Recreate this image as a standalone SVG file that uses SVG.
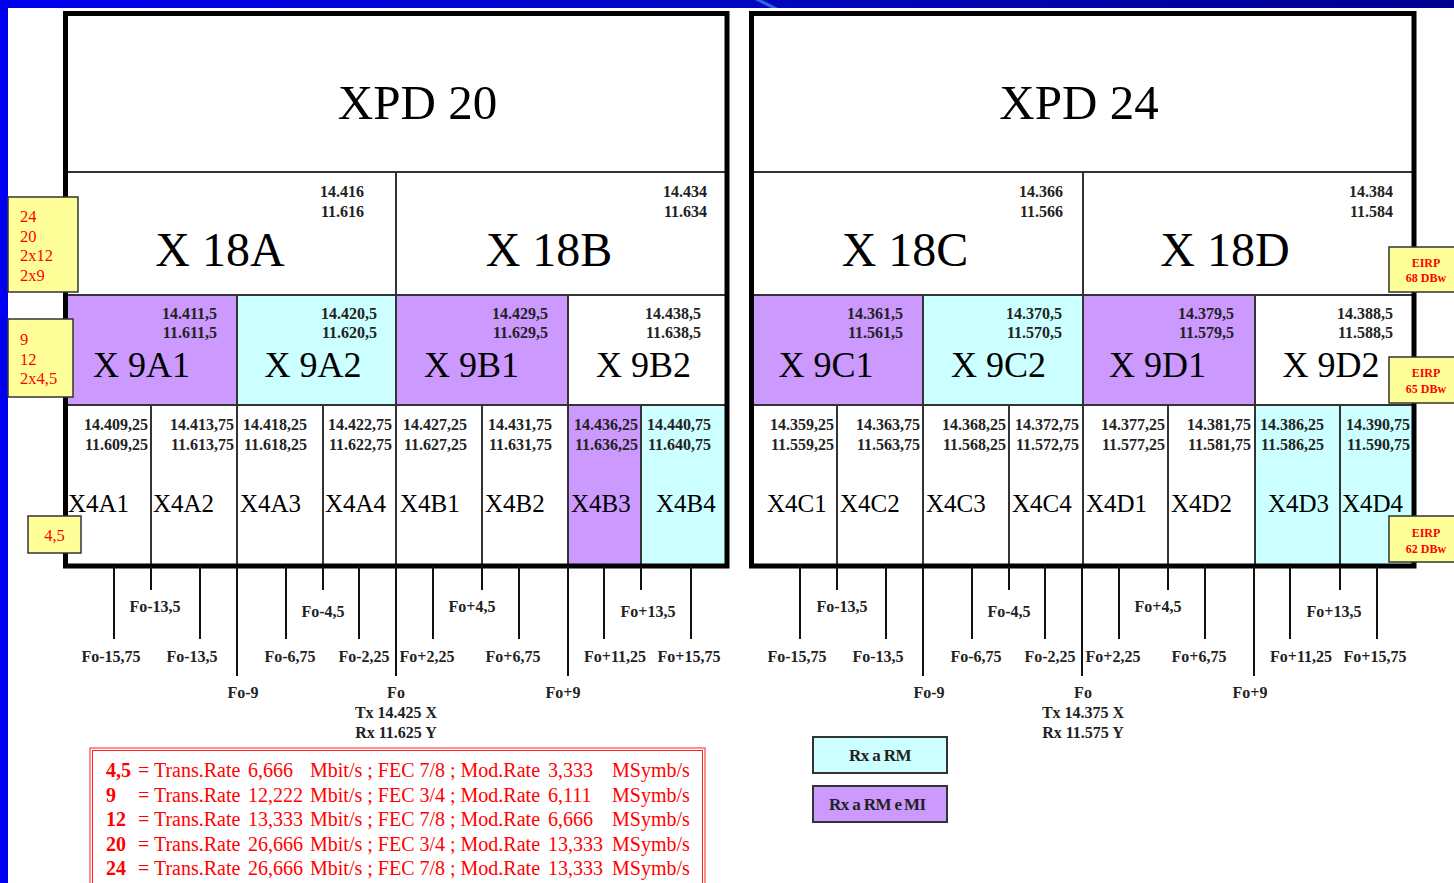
<svg xmlns="http://www.w3.org/2000/svg" width="1454" height="883" viewBox="0 0 1454 883">
<defs>
<linearGradient id="topbar" x1="0" y1="0" x2="1" y2="0">
<stop offset="0" stop-color="#0000f0"/>
<stop offset="0.5" stop-color="#0008c0"/>
<stop offset="1" stop-color="#000090"/>
</linearGradient>
</defs>
<style>
.sf{font-family:"Liberation Serif","Times New Roman",serif;}
.big{font-size:49px;fill:#000;text-anchor:middle;}
.b18{font-size:48px;fill:#000;text-anchor:middle;}
.b9{font-size:36px;fill:#000;text-anchor:middle;}
.b4{font-size:25px;fill:#000;}
.num{font-size:16px;font-weight:bold;fill:#222;text-anchor:end;}
.tick{font-size:16px;font-weight:bold;fill:#222;text-anchor:middle;}
.ln{stroke:#333;stroke-width:2;fill:none;}
.tk{stroke:#111;stroke-width:2;}
.frame{fill:none;stroke:#000;stroke-width:5;}
.pur{fill:#cc99ff;}
.cya{fill:#ccffff;}
.yel{fill:#ffff99;stroke:#333;stroke-width:1.5;}
.red{font-size:16.5px;fill:#ff0000;}
.eirp{font-size:12px;font-weight:bold;fill:#ff0000;text-anchor:middle;}
.leg{font-size:20px;fill:#ff0000;}
.rx{font-size:17px;font-weight:bold;fill:#222;letter-spacing:-0.6px;}
</style>
<rect x="0" y="0" width="1454" height="883" fill="#fff"/>
<rect x="0" y="0" width="1454" height="8" fill="url(#topbar)"/>
<polygon points="755,0 762,0 778,8 771,8" fill="#3a7ae8" opacity="0.8"/>
<rect x="0" y="0" width="8" height="883" fill="#0000f0"/>

<g id="panel-xpd20" class="sf">
<rect x="237" y="295" width="159" height="110" class="cya"/>
<rect x="66" y="295" width="171" height="110" class="pur"/>
<rect x="396" y="295" width="172" height="110" class="pur"/>
<rect x="568" y="405" width="73" height="161" class="pur"/>
<rect x="641" y="405" width="86" height="161" class="cya"/>
<path class="ln" d="M66 172H727M66 295H727M66 405H727M396 172V566M237 295V566M568 295V566M151 405V566M323 405V566M482 405V566M641 405V566"/>
<rect x="65.5" y="13.5" width="661.5" height="552.5" class="frame"/>
<text x="417.5" y="119" class="big">XPD 20</text>
<text x="220" y="266" class="b18">X 18A</text>
<text x="549" y="266" class="b18">X 18B</text>
<text x="364" y="197" class="num">14.416</text><text x="364" y="217" class="num">11.616</text>
<text x="707" y="197" class="num">14.434</text><text x="707" y="217" class="num">11.634</text>
<text x="141.5" y="377" class="b9">X 9A1</text>
<text x="313" y="377" class="b9">X 9A2</text>
<text x="471.5" y="377" class="b9">X 9B1</text>
<text x="643.5" y="377" class="b9">X 9B2</text>
<text x="217" y="319" class="num">14.411,5</text><text x="217" y="338" class="num">11.611,5</text>
<text x="377" y="319" class="num">14.420,5</text><text x="377" y="338" class="num">11.620,5</text>
<text x="548" y="319" class="num">14.429,5</text><text x="548" y="338" class="num">11.629,5</text>
<text x="701" y="319" class="num">14.438,5</text><text x="701" y="338" class="num">11.638,5</text>
<text x="148" y="430" class="num">14.409,25</text><text x="148" y="450" class="num">11.609,25</text>
<text x="234" y="430" class="num">14.413,75</text><text x="234" y="450" class="num">11.613,75</text>
<text x="307" y="430" class="num">14.418,25</text><text x="307" y="450" class="num">11.618,25</text>
<text x="392" y="430" class="num">14.422,75</text><text x="392" y="450" class="num">11.622,75</text>
<text x="467" y="430" class="num">14.427,25</text><text x="467" y="450" class="num">11.627,25</text>
<text x="552" y="430" class="num">14.431,75</text><text x="552" y="450" class="num">11.631,75</text>
<text x="638" y="430" class="num">14.436,25</text><text x="638" y="450" class="num">11.636,25</text>
<text x="711" y="430" class="num">14.440,75</text><text x="711" y="450" class="num">11.640,75</text>
<text x="68" y="512" class="b4">X4A1</text>
<text x="153" y="512" class="b4">X4A2</text>
<text x="240" y="512" class="b4">X4A3</text>
<text x="325" y="512" class="b4">X4A4</text>
<text x="400" y="512" class="b4">X4B1</text>
<text x="485" y="512" class="b4">X4B2</text>
<text x="571" y="512" class="b4">X4B3</text>
<text x="656" y="512" class="b4">X4B4</text>
</g>

<g id="panel-xpd24" class="sf">
<rect x="752" y="295" width="171" height="110" class="pur"/>
<rect x="923" y="295" width="160" height="110" class="cya"/>
<rect x="1083" y="295" width="172" height="110" class="pur"/>
<rect x="1255" y="405" width="159" height="161" class="cya"/>
<path class="ln" d="M752 172H1414M752 295H1414M752 405H1414M1083 172V566M923 295V566M1255 295V566M837 405V566M1009 405V566M1168 405V566M1340 405V566"/>
<rect x="751.5" y="13.5" width="662.5" height="552.5" class="frame"/>
<text x="1079" y="119" class="big">XPD 24</text>
<text x="905" y="266" class="b18">X 18C</text>
<text x="1225" y="266" class="b18">X 18D</text>
<text x="1063" y="197" class="num">14.366</text><text x="1063" y="217" class="num">11.566</text>
<text x="1393" y="197" class="num">14.384</text><text x="1393" y="217" class="num">11.584</text>
<text x="826" y="377" class="b9">X 9C1</text>
<text x="998.5" y="377" class="b9">X 9C2</text>
<text x="1157.5" y="377" class="b9">X 9D1</text>
<text x="1331" y="377" class="b9">X 9D2</text>
<text x="903" y="319" class="num">14.361,5</text><text x="903" y="338" class="num">11.561,5</text>
<text x="1062" y="319" class="num">14.370,5</text><text x="1062" y="338" class="num">11.570,5</text>
<text x="1234" y="319" class="num">14.379,5</text><text x="1234" y="338" class="num">11.579,5</text>
<text x="1393" y="319" class="num">14.388,5</text><text x="1393" y="338" class="num">11.588,5</text>
<text x="834" y="430" class="num">14.359,25</text><text x="834" y="450" class="num">11.559,25</text>
<text x="920" y="430" class="num">14.363,75</text><text x="920" y="450" class="num">11.563,75</text>
<text x="1006" y="430" class="num">14.368,25</text><text x="1006" y="450" class="num">11.568,25</text>
<text x="1079" y="430" class="num">14.372,75</text><text x="1079" y="450" class="num">11.572,75</text>
<text x="1165" y="430" class="num">14.377,25</text><text x="1165" y="450" class="num">11.577,25</text>
<text x="1251" y="430" class="num">14.381,75</text><text x="1251" y="450" class="num">11.581,75</text>
<text x="1324" y="430" class="num">14.386,25</text><text x="1324" y="450" class="num">11.586,25</text>
<text x="1410" y="430" class="num">14.390,75</text><text x="1410" y="450" class="num">11.590,75</text>
<text x="767" y="512" class="b4">X4C1</text>
<text x="840" y="512" class="b4">X4C2</text>
<text x="926" y="512" class="b4">X4C3</text>
<text x="1012" y="512" class="b4">X4C4</text>
<text x="1086" y="512" class="b4">X4D1</text>
<text x="1171" y="512" class="b4">X4D2</text>
<text x="1268" y="512" class="b4">X4D3</text>
<text x="1342" y="512" class="b4">X4D4</text>
</g>

<g id="rate-box-18" class="sf">
<rect x="8" y="197" width="70" height="95" class="yel"/>
<text x="20" y="222" class="red">24</text>
<text x="20" y="242" class="red">20</text>
<text x="20" y="261" class="red">2x12</text>
<text x="20" y="281" class="red">2x9</text>
</g>
<g id="rate-box-9" class="sf">
<rect x="8" y="319" width="65" height="78" class="yel"/>
<text x="20" y="345" class="red">9</text>
<text x="20" y="365" class="red">12</text>
<text x="20" y="384" class="red">2x4,5</text>
</g>
<g id="rate-box-4" class="sf">
<rect x="28" y="516" width="53" height="37" class="yel"/>
<text x="54.5" y="541" class="red" text-anchor="middle">4,5</text>
</g>

<g id="eirp-68" class="sf">
<rect x="1389" y="247" width="75" height="45" class="yel"/>
<text x="1426" y="267" class="eirp">EIRP</text>
<text x="1426" y="282" class="eirp">68 DBw</text>
</g>
<g id="eirp-65" class="sf">
<rect x="1389" y="357" width="75" height="46" class="yel"/>
<text x="1426" y="377" class="eirp">EIRP</text>
<text x="1426" y="393" class="eirp">65 DBw</text>
</g>
<g id="eirp-62" class="sf">
<rect x="1389" y="516" width="75" height="46" class="yel"/>
<text x="1426" y="537" class="eirp">EIRP</text>
<text x="1426" y="553" class="eirp">62 DBw</text>
</g>

<g id="connectors">
<path class="tk" d="M237 566V676M396 566V676M568 566V676M114 566V639M200 566V639M286 566V639M359 566V639M433 566V639M519 566V639M604 566V639M691 566V639M151 566V590M323 566V590M482 566V590M641 566V590"/>
<path class="tk" d="M923 566V676M1082 566V676M1254 566V676M800 566V639M886 566V639M972 566V639M1045 566V639M1119 566V639M1205 566V639M1290 566V639M1377 566V639M837 566V590M1009 566V590M1168 566V590M1340 566V590"/>
</g>

<g id="tick-labels-left" class="sf">
<text x="155" y="612" class="tick">Fo-13,5</text>
<text x="323" y="617" class="tick">Fo-4,5</text>
<text x="472" y="612" class="tick">Fo+4,5</text>
<text x="648" y="617" class="tick">Fo+13,5</text>
<text x="111" y="662" class="tick">Fo-15,75</text>
<text x="192" y="662" class="tick">Fo-13,5</text>
<text x="290" y="662" class="tick">Fo-6,75</text>
<text x="364" y="662" class="tick">Fo-2,25</text>
<text x="427" y="662" class="tick">Fo+2,25</text>
<text x="513" y="662" class="tick">Fo+6,75</text>
<text x="615" y="662" class="tick">Fo+11,25</text>
<text x="689" y="662" class="tick">Fo+15,75</text>
<text x="243" y="698" class="tick">Fo-9</text>
<text x="396" y="698" class="tick">Fo</text>
<text x="563" y="698" class="tick">Fo+9</text>
<text x="396" y="718" class="tick">Tx 14.425 X</text>
<text x="396" y="738" class="tick">Rx 11.625 Y</text>
</g>
<g id="tick-labels-right" class="sf">
<text x="842" y="612" class="tick">Fo-13,5</text>
<text x="1009" y="617" class="tick">Fo-4,5</text>
<text x="1158" y="612" class="tick">Fo+4,5</text>
<text x="1334" y="617" class="tick">Fo+13,5</text>
<text x="797" y="662" class="tick">Fo-15,75</text>
<text x="878" y="662" class="tick">Fo-13,5</text>
<text x="976" y="662" class="tick">Fo-6,75</text>
<text x="1050" y="662" class="tick">Fo-2,25</text>
<text x="1113" y="662" class="tick">Fo+2,25</text>
<text x="1199" y="662" class="tick">Fo+6,75</text>
<text x="1301" y="662" class="tick">Fo+11,25</text>
<text x="1375" y="662" class="tick">Fo+15,75</text>
<text x="929" y="698" class="tick">Fo-9</text>
<text x="1083" y="698" class="tick">Fo</text>
<text x="1250" y="698" class="tick">Fo+9</text>
<text x="1083" y="718" class="tick">Tx 14.375 X</text>
<text x="1083" y="738" class="tick">Rx 11.575 Y</text>
</g>

<g id="legend" class="sf">
<rect x="90" y="748" width="615" height="145" fill="none" stroke="#ff2020" stroke-width="1"/>
<rect x="92.5" y="750.5" width="610" height="140" fill="none" stroke="#ff2020" stroke-width="1"/>
<text y="777" class="leg"><tspan x="106" font-weight="bold">4,5</tspan><tspan x="138">= Trans.Rate</tspan><tspan x="248">6,666</tspan><tspan x="310">Mbit/s ; FEC 7/8 ; Mod.Rate</tspan><tspan x="548">3,333</tspan><tspan x="612">MSymb/s</tspan></text>
<text y="802" class="leg"><tspan x="106" font-weight="bold">9</tspan><tspan x="138">= Trans.Rate</tspan><tspan x="248">12,222</tspan><tspan x="310">Mbit/s ; FEC 3/4 ; Mod.Rate</tspan><tspan x="548">6,111</tspan><tspan x="612">MSymb/s</tspan></text>
<text y="826" class="leg"><tspan x="106" font-weight="bold">12</tspan><tspan x="138">= Trans.Rate</tspan><tspan x="248">13,333</tspan><tspan x="310">Mbit/s ; FEC 7/8 ; Mod.Rate</tspan><tspan x="548">6,666</tspan><tspan x="612">MSymb/s</tspan></text>
<text y="851" class="leg"><tspan x="106" font-weight="bold">20</tspan><tspan x="138">= Trans.Rate</tspan><tspan x="248">26,666</tspan><tspan x="310">Mbit/s ; FEC 3/4 ; Mod.Rate</tspan><tspan x="548">13,333</tspan><tspan x="612">MSymb/s</tspan></text>
<text y="875" class="leg"><tspan x="106" font-weight="bold">24</tspan><tspan x="138">= Trans.Rate</tspan><tspan x="248">26,666</tspan><tspan x="310">Mbit/s ; FEC 7/8 ; Mod.Rate</tspan><tspan x="548">13,333</tspan><tspan x="612">MSymb/s</tspan></text>
</g>

<g id="key-rx-rm" class="sf">
<rect x="813" y="737" width="134" height="36" class="cya" stroke="#333" stroke-width="2"/>
<text x="880" y="761" class="rx" text-anchor="middle">Rx a RM</text>
</g>
<g id="key-rx-rm-mi" class="sf">
<rect x="813" y="786" width="134" height="36" class="pur" stroke="#333" stroke-width="2"/>
<text y="810" class="rx"><tspan x="829">Rx a RM e</tspan><tspan x="904">MI</tspan></text>
</g>
</svg>
